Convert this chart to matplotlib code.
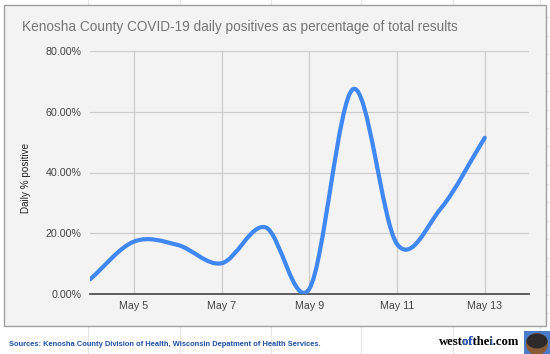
import matplotlib
matplotlib.use("Agg")
import matplotlib.pyplot as plt
from matplotlib.path import Path
from matplotlib.patches import PathPatch, Rectangle, Ellipse
from matplotlib.ticker import FuncFormatter
from matplotlib.transforms import Bbox
import numpy as np

# ---- data ----
days = [4, 5, 6, 7, 8, 9, 10, 11, 12, 13]          # May 4 .. May 13
pct_positive = [4.9, 17.3, 16.2, 10.2, 22.0, 1.8, 67.4, 16.5, 28.2, 51.4]
tick_days = [5, 7, 9, 11, 13]
tick_labels = ["May 5", "May 7", "May 9", "May 11", "May 13"]
y_ticks = [0, 20, 40, 60, 80]

title = "Kenosha County COVID-19 daily positives as percentage of total results"
ylabel = "Daily % positive"
source = "Sources: Kenosha County Division of Health, Wisconsin Depatment of Health Services."
logo = "westofthei.com"

W, H = 550, 354
fig = plt.figure(figsize=(W / 100, H / 100), dpi=100)
fig.patch.set_facecolor("white")

def fx(px):
    return px / W

def fy(py):
    return 1 - py / H

# faint spreadsheet grid behind the chart
for gx in [88, 180, 271, 361, 453, 540]:
    fig.add_artist(plt.Line2D([fx(gx), fx(gx)], [0, 1], color="#e6e6e6", lw=0.8, zorder=0))
for gy in np.arange(17, H, 18.5):
    fig.add_artist(plt.Line2D([fx(546), 1], [fy(gy), fy(gy)], color="#e6e6e6", lw=0.8, zorder=0))

# chart box
fig.add_artist(Rectangle((fx(4), fy(326)), fx(546) - fx(4), fy(5) - fy(326),
                         transform=fig.transFigure, facecolor="#f3f3f3",
                         edgecolor="#a0a0a0", lw=1.0, zorder=1))

ax = fig.add_axes([fx(90), fy(294.3), fx(528.6) - fx(90), fy(50.7) - fy(294.3)])
ax.set_zorder(2)
ax.patch.set_alpha(0)

# smooth curve (cardinal / Catmull-Rom bezier through the data points)
x = np.array(days, dtype=float)
y = np.array(pct_positive, dtype=float)
n = len(x)
tx = np.zeros(n); ty = np.zeros(n)
for i in range(n):
    a = max(i - 1, 0); b = min(i + 1, n - 1)
    tx[i] = (x[b] - x[a]) / (b - a)
    ty[i] = (y[b] - y[a]) / (b - a)
verts = [(x[0], y[0])]
codes = [Path.MOVETO]
for i in range(n - 1):
    verts += [(x[i] + tx[i] / 3, y[i] + ty[i] / 3),
              (x[i + 1] - tx[i + 1] / 3, y[i + 1] - ty[i + 1] / 3),
              (x[i + 1], y[i + 1])]
    codes += [Path.CURVE4, Path.CURVE4, Path.CURVE4]
ax.add_patch(PathPatch(Path(verts, codes), facecolor="none", edgecolor="#3f87f2",
                       lw=3.0, capstyle="round", joinstyle="round", zorder=3))

ax.set_xlim(4, 14)
ax.set_ylim(0, 80)
ax.set_xticks(tick_days)
ax.set_xticklabels(tick_labels)
ax.set_yticks(y_ticks)
ax.yaxis.set_major_formatter(FuncFormatter(lambda v, p: f"{v:.2f}%"))
ax.grid(True, color="#cccccc", lw=0.9)
ax.set_axisbelow(True)
for s in ["top", "right", "left"]:
    ax.spines[s].set_visible(False)
ax.spines["bottom"].set_color("#444444")
ax.spines["bottom"].set_linewidth(1.2)
ax.spines["bottom"].set_zorder(2.5)
ax.tick_params(length=0, labelsize=7.7, labelcolor="#444444", pad=6,
               labelfontfamily="Liberation Sans")
ax.tick_params(axis="x", pad=5)

fig.text(fx(26), fy(178), ylabel, rotation=90, ha="center", va="center",
         fontsize=7.1, color="#222222", family="Liberation Sans", zorder=5)
fig.text(fx(22), fy(27), title, ha="left", va="center", fontsize=9.85,
         color="#757575", family="Liberation Sans", zorder=5)

fig.text(fx(9), fy(345), source, ha="left", va="center", fontsize=5.4,
         color="#1d4fa6", family="Liberation Sans", fontweight="bold", zorder=5)

# westofthei.com logo text: black string, with blue copies clipped to "of" and "i"
renderer = fig.canvas.get_renderer()
logo_kw = dict(ha="left", va="center", fontsize=9.1, family="Liberation Serif",
               fontweight="bold", zorder=5)
x0 = fx(439)
fig.text(x0, fy(342), logo, color="black", **logo_kw)

def prefix_right(s):
    t = fig.text(x0, fy(342), s, **logo_kw)
    bb = t.get_window_extent(renderer=renderer)
    t.remove()
    return bb.x1

e_west = prefix_right("west")
e_westof = prefix_right("westof")
e_westofthe = prefix_right("westofthe")
e_westofthei = prefix_right("westofthei")
for a_px, b_px in [(e_west + 0.3, e_westof + 0.3), (e_westofthe + 0.3, e_westofthei + 0.3)]:
    tb = fig.text(x0, fy(342), logo, color="#2d5fd0", **dict(logo_kw, zorder=6))
    tb.set_clip_on(True)
    tb.set_clip_box(Bbox.from_extents(a_px, 0, b_px, H))

# small icon
fig.add_artist(Rectangle((fx(524), 0), fx(550) - fx(524), fy(331), transform=fig.transFigure,
                         facecolor="#4a7cc9", edgecolor="none", zorder=5))
fig.add_artist(Ellipse((fx(537), fy(344)), 22 / W, 22 / H, transform=fig.transFigure,
                       facecolor="#8a5a36", edgecolor="none", zorder=6))
fig.add_artist(Ellipse((fx(537), fy(341)), 21 / W, 15 / H, transform=fig.transFigure,
                       facecolor="#2c2a2a", edgecolor="none", zorder=7))

fig.savefig("out.png", dpi=100)
